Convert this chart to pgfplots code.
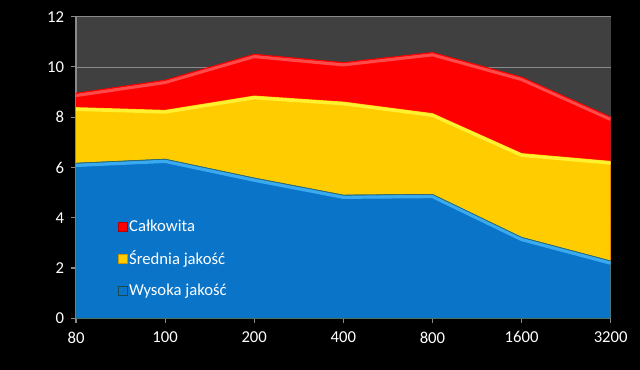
\documentclass[border=0pt]{standalone}
\usepackage{pgfplots}
\pgfplotsset{compat=1.18}
\usepackage{fontspec}
\setmainfont{Carlito}
\definecolor{plotbg}{HTML}{404040}
\definecolor{gridc}{HTML}{8A8A8A}
\definecolor{cred}{HTML}{FF0000}
\definecolor{credl}{HTML}{FF4A4A}
\definecolor{credd}{HTML}{B00000}
\definecolor{cyel}{HTML}{FFCC00}
\definecolor{cyell}{HTML}{FFF030}
\definecolor{cyeld}{HTML}{C89600}
\definecolor{cblue}{HTML}{0A74C8}
\definecolor{cbluel}{HTML}{3AAAF0}
\definecolor{cblued}{HTML}{2A6A70}
\begin{document}
\begin{tikzpicture}
\fill[black] (-57pt,-38.8pt) rectangle ++(480pt,277.5pt);
\useasboundingbox (-57pt,-38.8pt) rectangle ++(480pt,277.5pt);
\begin{axis}[
  at={(0,0)}, anchor=south west,
  scale only axis, width=401pt, height=226.2pt,
  xmin=0, xmax=6, ymin=0, ymax=12,
  xtick={0,...,6}, xticklabels={80,100,200,400,800,1600,3200},
  ytick={0,2,...,12},
  axis background/.style={fill=plotbg},
  axis x line*=bottom, axis y line*=left,
  axis line style={gridc, line width=0.8pt, -},
  ymajorgrids, grid style={gridc, line width=0.6pt},
  tick style={gridc, line width=0.8pt},
  tick align=outside, major tick length=3.5pt,
  ticklabel style={white, font=\fontsize{12.5pt}{14pt}\selectfont},
  /pgf/number format/assume math mode=true,
  xticklabel style={yshift=-3pt},
  yticklabel style={xshift=-2pt},
  legend style={at={(0.071,0.34)}, anchor=north west, draw=none, fill=none,
    text=white, font=\fontsize{12.5pt}{14pt}\selectfont, row sep=11pt,
    nodes={inner sep=1pt}},
  legend cell align=left,
  clip=true,
]
\addplot[fill=cred, draw=none, legend image code/.code={\draw[fill=cred, draw=credd, line width=0.6pt] (0pt,-3.2pt) rectangle (6.6pt,3.4pt);}] coordinates {(0,8.95) (1,9.47) (2,10.5) (3,10.17) (4,10.57) (5,9.59) (6,8.0)} \closedcycle;
\addlegendentry{Całkowita}
\addplot[fill=cyel, draw=none, legend image code/.code={\draw[fill=cyel, draw=cyeld, line width=0.6pt] (0pt,-3.2pt) rectangle (6.6pt,3.4pt);}] coordinates {(0,8.4) (1,8.29) (2,8.86) (3,8.62) (4,8.16) (5,6.57) (6,6.26)} \closedcycle;
\addlegendentry{Średnia jakość}
\addplot[fill=cblue, draw=cblued, legend image code/.code={\draw[fill=cblue, draw=cblued!70!black, line width=0.6pt] (0pt,-3.2pt) rectangle (6.6pt,3.4pt);}] coordinates {(0,6.17) (1,6.33) (2,5.58) (3,4.9) (4,4.93) (5,3.22) (6,2.28)} \closedcycle;
\addlegendentry{Wysoka jakość}
\addplot[forget plot, draw=credl, line width=2.5pt, shift={(0,-1.6pt)}] coordinates {(0,8.95) (1,9.47) (2,10.5) (3,10.17) (4,10.57) (5,9.59) (6,8.0)};
\addplot[forget plot, draw=cred, line width=0.8pt] coordinates {(0,8.95) (1,9.47) (2,10.5) (3,10.17) (4,10.57) (5,9.59) (6,8.0)};
\addplot[forget plot, draw=cyell, line width=2.5pt, shift={(0,-1.6pt)}] coordinates {(0,8.4) (1,8.29) (2,8.86) (3,8.62) (4,8.16) (5,6.57) (6,6.26)};
\addplot[forget plot, draw=cbluel, line width=2.5pt, shift={(0,-1.6pt)}] coordinates {(0,6.17) (1,6.33) (2,5.58) (3,4.9) (4,4.93) (5,3.22) (6,2.28)};
\addplot[forget plot, draw=cblued, line width=0.5pt] coordinates {(0,6.17) (1,6.33) (2,5.58) (3,4.9) (4,4.93) (5,3.22) (6,2.28)};
\end{axis}
\end{tikzpicture}
\end{document}
